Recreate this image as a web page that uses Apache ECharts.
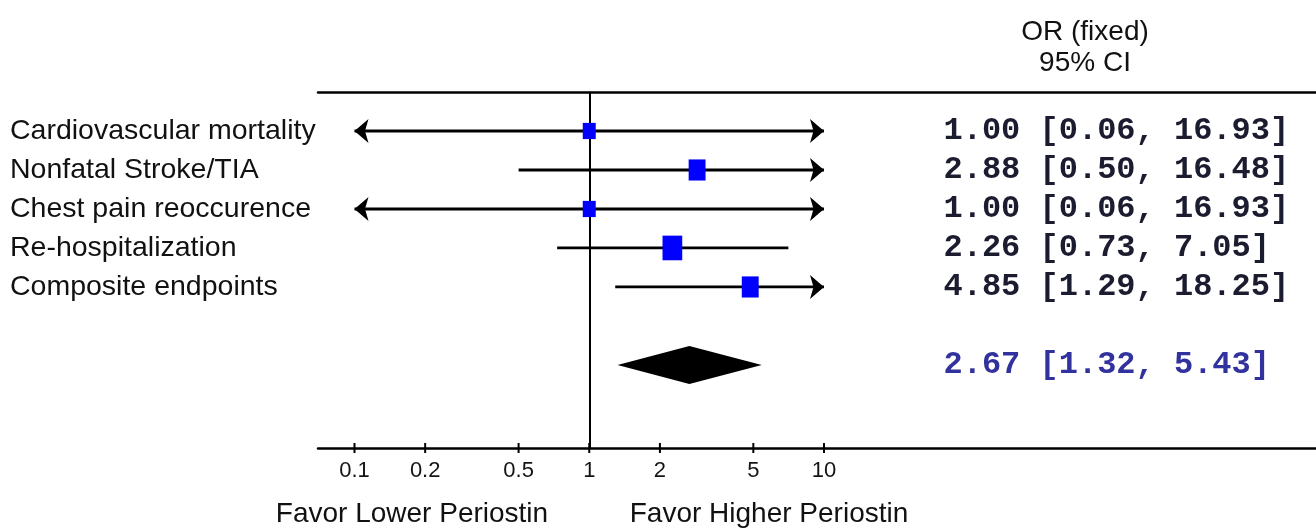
<!DOCTYPE html>
<html>
<head>
<meta charset="utf-8">
<script src="https://cdn.jsdelivr.net/npm/echarts@6/dist/echarts.min.js"></script>
<style>
html,body{margin:0;padding:0;background:#fff;}
#c{width:1316px;height:530px;}
</style>
</head>
<body>
<div id="c"></div>
<script>
// ---------------- data ----------------
const studies = ['Cardiovascular mortality', 'Nonfatal Stroke/TIA', 'Chest pain reoccurence', 'Re-hospitalization', 'Composite endpoints'];
const oddsRatios = [1.00, 2.88, 1.00, 2.26, 4.85];
const ciLower = [0.06, 0.50, 0.06, 0.73, 1.29];
const ciUpper = [16.93, 16.48, 16.93, 7.05, 18.25];
const weights = [13, 22, 13, 30, 22];           // estimated study weights (%), drive square size
const pooled = [2.67, 1.32, 5.43];              // OR, lower, upper
const tickValues = [0.1, 0.2, 0.5, 1, 2, 5, 10];
const tickLabels = ['0.1', '0.2', '0.5', '1', '2', '5', '10'];
const headerLines = ['OR (fixed)', '95% CI'];
const favorLabels = ['Favor Lower Periostin', 'Favor Higher Periostin'];
const nullValue = 1;

// ---------------- layout ----------------
const SANS = '"Liberation Sans", Arial, sans-serif';
const MONO = '"Liberation Mono", "Courier New", monospace';
const GRID_LEFT = 318, GRID_TOP = 92, GRID_BOTTOM = 82, W = 1316;
const PX_PER_DECADE = 234.75, FIRST_TICK_PX = 354.5;
const clipMin = tickValues[0], clipMax = tickValues[tickValues.length - 1];
const axisMin = clipMin * Math.pow(10, -(FIRST_TICK_PX - GRID_LEFT) / PX_PER_DECADE);
const axisMax = axisMin * Math.pow(10, (W - GRID_LEFT) / PX_PER_DECADE);
const pooledRow = studies.length + 2;
const yMax = 9.13;

const chart = echarts.init(document.getElementById('c'), null, {renderer: 'canvas'});

function arrowHead(p, dir) {
  const L = 14, H = 12, inset = 3.5, x = p[0], y = p[1];
  return {
    type: 'polygon',
    shape: {points: [[x, y], [x - dir * L, y - H], [x - dir * (L - inset), y], [x - dir * L, y + H]]},
    style: {fill: '#000'}
  };
}

function renderCI(params, api) {
  const lo = api.value(0), hi = api.value(1), row = api.value(2);
  const a = api.coord([Math.max(lo, clipMin), row]);
  const b = api.coord([Math.min(hi, clipMax), row]);
  const children = [{
    type: 'line',
    shape: {x1: a[0], y1: a[1], x2: b[0], y2: b[1]},
    style: {stroke: '#000', lineWidth: 2.8}
  }];
  if (lo < clipMin) children.push(arrowHead(a, -1));
  if (hi > clipMax) children.push(arrowHead(b, 1));
  return {type: 'group', children};
}

function renderDiamond(params, api) {
  const est = api.value(0), lo = api.value(1), hi = api.value(2), row = api.value(3);
  const c = api.coord([est, row]), l = api.coord([lo, row]), r = api.coord([hi, row]);
  const h = 19;
  return {
    type: 'polygon',
    shape: {points: [[l[0], c[1]], [c[0], c[1] - h], [r[0], c[1]], [c[0], c[1] + h]]},
    style: {fill: '#000'}
  };
}

function renderTick(params, api) {
  const p = api.coord([api.value(0), api.value(1)]);
  return {
    type: 'line',
    shape: {x1: p[0], y1: p[1] - 5, x2: p[0], y2: p[1] + 5},
    style: {stroke: '#000', lineWidth: 2}
  };
}

const textRows = studies.map((s, i) => ({
  value: [0, i + 1],
  text: oddsRatios[i].toFixed(2) + ' [' + ciLower[i].toFixed(2) + ', ' + ciUpper[i].toFixed(2) + ']',
  color: '#1c1c30'
}));
textRows.push({
  value: [0, pooledRow],
  text: pooled[0].toFixed(2) + ' [' + pooled[1].toFixed(2) + ', ' + pooled[2].toFixed(2) + ']',
  color: '#32329e'
});

const option = {
  animation: false,
  backgroundColor: '#fff',
  grid: [
    {left: GRID_LEFT, right: 0, top: GRID_TOP, bottom: GRID_BOTTOM},
    {left: 943, right: 0, top: GRID_TOP, bottom: GRID_BOTTOM}
  ],
  xAxis: [
    {
      type: 'log', logBase: 10, gridIndex: 0, position: 'bottom', min: axisMin, max: axisMax,
      axisLine: {show: true, onZero: false, lineStyle: {color: '#000', width: 2.5}},
      axisTick: {show: false}, minorTick: {show: false}, splitLine: {show: false},
      axisLabel: {
        customValues: tickValues,
        formatter: function (v) {
          let best = 0;
          tickValues.forEach((t, i) => { if (Math.abs(Math.log10(t) - Math.log10(v)) < Math.abs(Math.log10(tickValues[best]) - Math.log10(v))) best = i; });
          return tickLabels[best];
        },
        fontSize: 22, fontFamily: SANS, color: '#141414', margin: 12
      }
    },
    {
      type: 'log', logBase: 10, gridIndex: 0, position: 'top', min: axisMin, max: axisMax,
      axisLine: {show: true, onZero: false, lineStyle: {color: '#000', width: 2.5}},
      axisTick: {show: false}, axisLabel: {show: false}, splitLine: {show: false}, minorTick: {show: false}
    },
    {type: 'value', gridIndex: 1, min: 0, max: 1, show: false}
  ],
  yAxis: [
    {
      type: 'value', gridIndex: 0, inverse: true, min: 0, max: yMax,
      axisLine: {show: false}, axisTick: {show: false}, splitLine: {show: false},
      axisLabel: {
        customValues: studies.map((s, i) => i + 1),
        formatter: v => studies[Math.round(v) - 1] || '',
        align: 'left', margin: GRID_LEFT - 10,
        fontSize: 28.5, fontFamily: SANS, color: '#111'
      }
    },
    {type: 'value', gridIndex: 1, inverse: true, min: 0, max: yMax, show: false}
  ],
  series: [
    {
      type: 'custom', name: 'CI', xAxisIndex: 0, yAxisIndex: 0, z: 3,
      renderItem: renderCI,
      encode: {x: [0, 1], y: 2},
      data: studies.map((s, i) => [ciLower[i], ciUpper[i], i + 1]),
      markLine: {
        silent: true, symbol: ['none', 'none'], label: {show: false},
        lineStyle: {color: '#000', width: 2, type: 'solid', opacity: 1},
        data: [{xAxis: nullValue}]
      }
    },
    {
      type: 'scatter', name: 'OR', xAxisIndex: 0, yAxisIndex: 0, z: 10,
      symbol: 'rect',
      itemStyle: {color: '#0000ff', opacity: 1},
      data: studies.map((s, i) => {
        const w = 3.6 * Math.sqrt(weights[i]);
        return {value: [oddsRatios[i], i + 1], symbolSize: [w, w * 1.25]};
      })
    },
    {
      type: 'custom', name: 'Pooled', xAxisIndex: 0, yAxisIndex: 0, z: 10,
      renderItem: renderDiamond,
      encode: {x: [0, 1, 2], y: 3},
      data: [[pooled[0], pooled[1], pooled[2], pooledRow]]
    },
    {
      type: 'custom', name: 'Ticks', xAxisIndex: 0, yAxisIndex: 0, z: 4,
      renderItem: renderTick,
      encode: {x: 0, y: 1},
      data: tickValues.map(v => [v, yMax])
    },
    {
      type: 'scatter', name: 'Text', xAxisIndex: 2, yAxisIndex: 1,
      symbolSize: 1, itemStyle: {color: 'rgba(0,0,0,0)', opacity: 1},
      data: textRows.map(r => ({value: r.value, label: {color: r.color}})),
      label: {
        show: true, position: 'right', distance: 0, opacity: 1,
        fontFamily: MONO, fontWeight: 'bold', fontSize: 32,
        formatter: p => textRows[p.dataIndex].text
      }
    }
  ],
  graphic: [
    {type: 'text', x: 1085, y: 32, style: {text: headerLines[0], font: '28px ' + SANS, fill: '#111', align: 'center', verticalAlign: 'middle'}},
    {type: 'text', x: 1085, y: 63, style: {text: headerLines[1], font: '28px ' + SANS, fill: '#111', align: 'center', verticalAlign: 'middle'}},
    {type: 'text', x: 412, y: 514, style: {text: favorLabels[0], font: '28px ' + SANS, fill: '#111', align: 'center', verticalAlign: 'middle'}},
    {type: 'text', x: 769, y: 514, style: {text: favorLabels[1], font: '28px ' + SANS, fill: '#111', align: 'center', verticalAlign: 'middle'}}
  ]
};
chart.setOption(option);
</script>
</body>
</html>
